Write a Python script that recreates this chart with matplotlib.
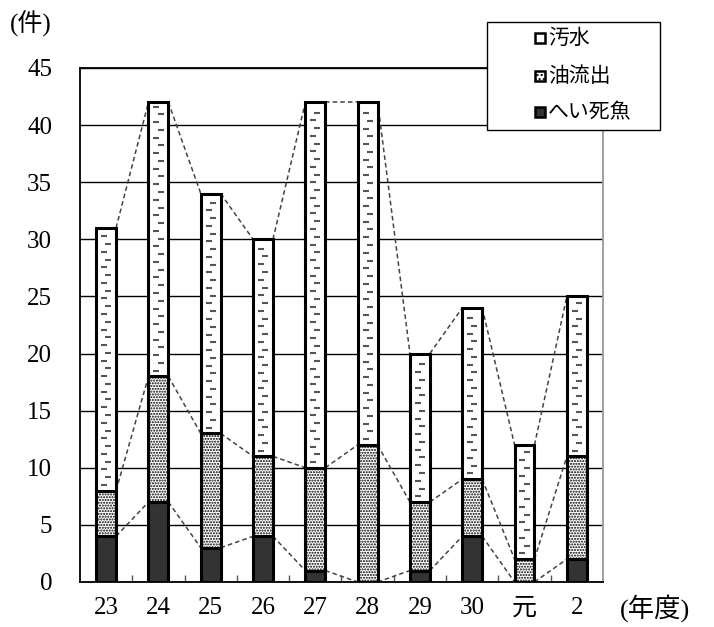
import numpy as np
import matplotlib
matplotlib.use("Agg")
import matplotlib.pyplot as plt
from matplotlib.patches import Rectangle

plt.rcParams['font.family'] = ['Liberation Serif', 'Noto Sans CJK JP']
plt.rcParams['hatch.color'] = '#8c8c8c'
plt.rcParams['hatch.linewidth'] = 1.0

# 年度別の件数
years = ['23', '24', '25', '26', '27', '28', '29', '30', '元', '2']
fish = [4, 7, 3, 4, 1, 0, 1, 4, 0, 2]          # へい死魚
oil = [4, 11, 10, 7, 9, 12, 6, 5, 2, 9]        # 油流出
sewage = [23, 24, 21, 19, 32, 30, 13, 15, 10, 14]  # 汚水
series_names = ['汚水', '油流出', 'へい死魚']

fish = np.array(fish)
oil = np.array(oil)
sewage = np.array(sewage)
x = np.arange(len(years))
w = 0.38

W, H = 714, 627
fig = plt.figure(figsize=(W / 100, H / 100), dpi=100)
ax = fig.add_axes([0.112, 0.0718, 0.7325, 0.8198])

edge = dict(edgecolor='black', linewidth=2.2, zorder=3)
ax.bar(x, fish, w, color='#333333', **edge)
ax.bar(x, oil, w, bottom=fish, color='white', hatch='......', **edge)
ax.bar(x, sewage, w, bottom=fish + oil, color='white', **edge)

# short dash texture inside the 汚水 segments
for xi, lo, hi in zip(x, fish + oil, fish + oil + sewage):
    ys = np.arange(lo + 0.5, hi - 0.3, 0.68)
    offs = np.where(np.arange(len(ys)) % 2 == 0, -0.04, 0.04)
    ax.scatter(xi + offs, ys, marker='_', s=20, color='#555555',
               linewidths=1.5, zorder=4)

# series lines between neighbouring bars
levels = [fish, fish + oil, fish + oil + sewage]
for lv in levels:
    for i in range(len(x) - 1):
        ax.plot([x[i] + w / 2, x[i + 1] - w / 2], [lv[i], lv[i + 1]],
                ls=(0, (3, 2)), color='#444444', lw=1.1, zorder=2)

ax.set_xlim(-0.5, len(x) - 0.5)
ax.set_ylim(0, 45)
ax.set_yticks(np.arange(0, 46, 5))
ax.yaxis.grid(True, color='black', lw=1.0, zorder=0)
ax.set_axisbelow(True)
ax.tick_params(axis='y', length=0, pad=20, labelsize=18)
ax.set_xticks(x)
ax.set_xticklabels(years)
ax.set_xticks(np.arange(0.5, len(x) - 1, 1), minor=True)
ax.tick_params(axis='x', which='major', length=0, pad=11, labelsize=18)
ax.tick_params(axis='x', which='minor', direction='in', length=5,
               width=1, color='#555555')

for s in ['left', 'bottom', 'top']:
    ax.spines[s].set_color('black')
    ax.spines[s].set_linewidth(1.3)
ax.spines['right'].set_color('#999999')
ax.spines['right'].set_linewidth(1.3)

fig.text(10 / W, 1 - 24 / H, '(件)', fontsize=18, va='center', ha='left')
fig.text(620 / W, 1 - 608 / H, '(年度)', fontsize=19, va='center', ha='left')

# legend box
fig.add_artist(Rectangle((487 / W, 1 - 130 / H), (660 - 487) / W, 108 / H,
                         transform=fig.transFigure, facecolor='white',
                         edgecolor='black', lw=1.0, zorder=5))
styles = [dict(facecolor='white'),
          dict(facecolor='white', hatch='....'),
          dict(facecolor='#333333')]
for name, st, yc in zip(series_names, styles, [38, 76, 112]):
    fig.add_artist(Rectangle((535 / W, 1 - (yc + 5) / H), 10 / W, 10 / H,
                             transform=fig.transFigure, edgecolor='black',
                             lw=1.8, zorder=6, **st))
    fig.text(548 / W, 1 - yc / H, name, fontsize=15, va='center',
             ha='left', family='Noto Sans CJK JP', zorder=6)

fig.savefig('out.png', dpi=100)
